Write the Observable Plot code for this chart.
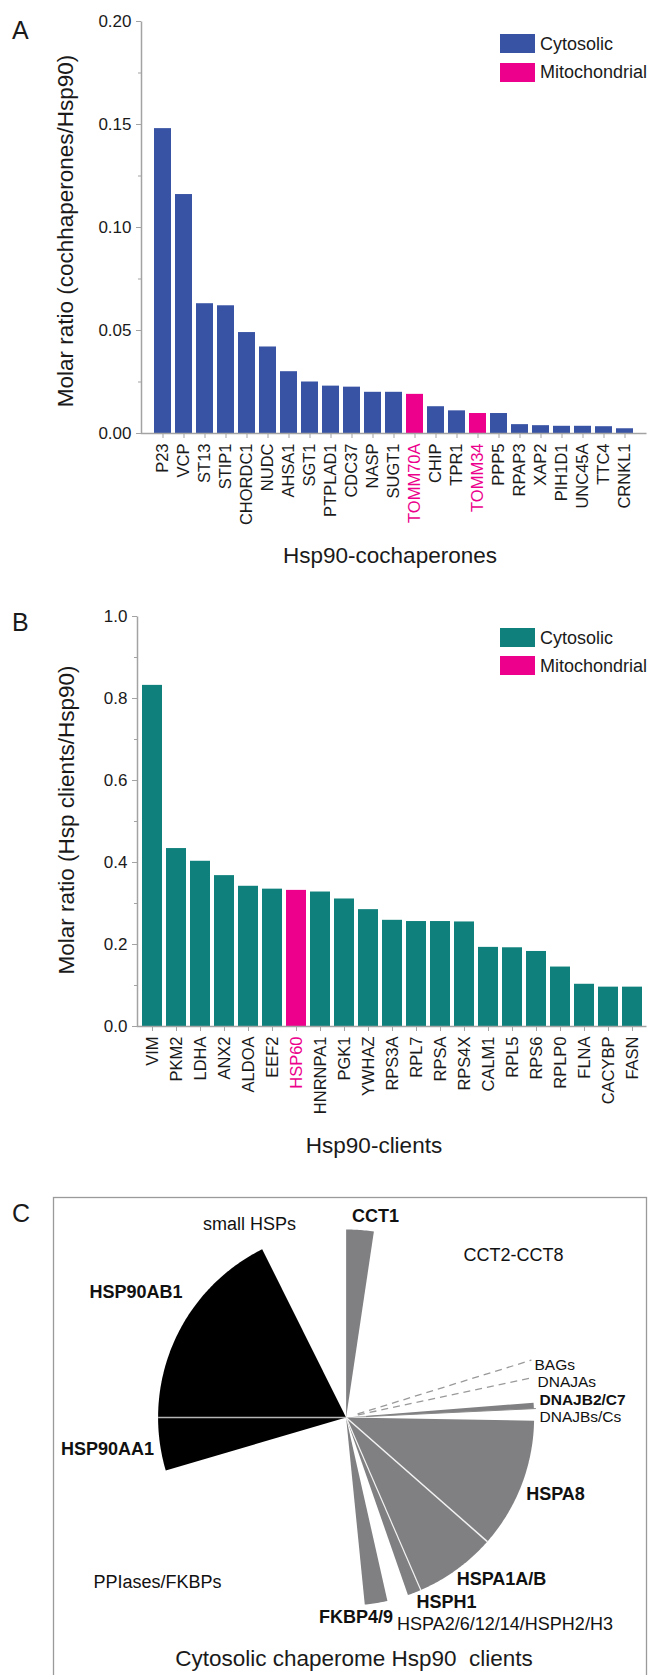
<!DOCTYPE html>
<html>
<head>
<meta charset="utf-8">
<script src="https://cdn.jsdelivr.net/npm/d3@7"></script>
<script src="https://cdn.jsdelivr.net/npm/@observablehq/plot@0.6"></script>
<style>
html, body { margin: 0; padding: 0; width: 649px; height: 1675px; overflow: hidden; background: #fff; }
#root { position: relative; width: 649px; height: 1675px; font-family: Arial, "Liberation Sans", Helvetica, sans-serif; color: #1a1a1a; }
.txt { position: absolute; white-space: pre; line-height: 1; }
.sw { position: absolute; width: 35px; height: 19px; }
</style>
</head>
<body>
<div id="root"></div>
<script>
// ---------- data ----------
const cochaperones = ["P23","VCP","ST13","STIP1","CHORDC1","NUDC","AHSA1","SGT1","PTPLAD1","CDC37","NASP","SUGT1","TOMM70A","CHIP","TPR1","TOMM34","PPP5","RPAP3","XAP2","PIH1D1","UNC45A","TTC4","CRNKL1"];
const cochaperoneRatio = [0.148,0.116,0.063,0.062,0.049,0.042,0.030,0.025,0.023,0.0225,0.020,0.020,0.019,0.013,0.011,0.0097,0.0097,0.0043,0.0038,0.0035,0.0035,0.0033,0.0023];
const cochaperoneLoc = ["Cytosolic","Cytosolic","Cytosolic","Cytosolic","Cytosolic","Cytosolic","Cytosolic","Cytosolic","Cytosolic","Cytosolic","Cytosolic","Cytosolic","Mitochondrial","Cytosolic","Cytosolic","Mitochondrial","Cytosolic","Cytosolic","Cytosolic","Cytosolic","Cytosolic","Cytosolic","Cytosolic"];

const clients = ["VIM","PKM2","LDHA","ANX2","ALDOA","EEF2","HSP60","HNRNPA1","PGK1","YWHAZ","RPS3A","RPL7","RPSA","RPS4X","CALM1","RPL5","RPS6","RPLP0","FLNA","CACYBP","FASN"];
const clientRatio = [0.832,0.434,0.403,0.368,0.342,0.335,0.332,0.328,0.311,0.285,0.259,0.256,0.256,0.255,0.193,0.192,0.183,0.145,0.103,0.096,0.096];
const clientLoc = ["Cytosolic","Cytosolic","Cytosolic","Cytosolic","Cytosolic","Cytosolic","Mitochondrial","Cytosolic","Cytosolic","Cytosolic","Cytosolic","Cytosolic","Cytosolic","Cytosolic","Cytosolic","Cytosolic","Cytosolic","Cytosolic","Cytosolic","Cytosolic","Cytosolic"];

const locations = ["Cytosolic","Mitochondrial"];
const yTicksA = [0, 0.05, 0.10, 0.15, 0.20];
const yMinorA = [0.025, 0.075, 0.125, 0.175];
const yTicksB = [0, 0.2, 0.4, 0.6, 0.8, 1.0];
const yMinorB = [0.1, 0.3, 0.5, 0.7, 0.9];

// panel C: cytosolic chaperome, share of the circle (degrees), clockwise from 12 o'clock
const pieNames = ["CCT1","CCT2-CCT8","BAGs","DNAJAs","DNAJB2/C7","DNAJBs/Cs","HSPA8","HSPA1A/B","HSPH1","HSPA2/6/12/14/HSPH2/H3","FKBP4/9","PPIases/FKBPs","HSP90AA1","HSP90AB1","small HSPs"];
const pieShare = [8.5, 64.3, 5.1, 7.6, 1.8, 3.7, 40.3, 25.3, 4.2, 6.5, 7.0, 79.3, 16.4, 63.5, 26.5];
const pieKind = ["chaperone","other","other","other","chaperone","other","chaperone","chaperone","chaperone","other","chaperone","other","hsp90","hsp90","other"];
const pieBold = ["CCT1","HSP90AB1","HSP90AA1","DNAJB2/C7","HSPA8","HSPA1A/B","HSPH1","FKBP4/9"];

// ---------- styles ----------
const FONT = "Arial, 'Liberation Sans', Helvetica, sans-serif";
const AXIS_GRAY = "#a3a3a3";
const PINK = "#ec008c";
const BLUE = "#3953a4";
const TEAL = "#0f807b";
const W = 649;
const root = document.getElementById("root");

function addText(str, {x, y, size, anchor = "middle", weight = "normal", color = "#1a1a1a", rotate = 0}) {
  const d = document.createElement("div");
  d.className = "txt";
  d.textContent = str;
  d.style.fontSize = size + "px";
  d.style.fontWeight = weight;
  d.style.color = color;
  d.style.left = x + "px";
  d.style.top = y + "px";
  const tx = anchor === "middle" ? "-50%" : anchor === "end" ? "-100%" : "0";
  d.style.transform = rotate ? `translate(-50%, -50%) rotate(${rotate}deg)` : `translate(${tx}, -50%)`;
  d.style.transformOrigin = "50% 50%";
  root.appendChild(d);
}
function addSwatch(x, y, color) {
  const d = document.createElement("div");
  d.className = "sw";
  d.style.left = x + "px"; d.style.top = y + "px"; d.style.background = color;
  root.appendChild(d);
}
function place(svg, top) {
  svg.style.position = "absolute";
  svg.style.left = "0px";
  svg.style.top = top + "px";
  root.appendChild(svg);
}

function barPanel({names, values, locs, barColor, yMax, major, minor, fmt, height, marginTop, marginBottom, marginLeft, marginRight, paddingInner, paddingOuter}) {
  const data = names.map((name, i) => ({name, value: values[i], loc: locs[i]}));
  const plotW = W - marginLeft - marginRight;
  const plotH = height - marginTop - marginBottom;
  const labelOpts = {x: "name", frameAnchor: "bottom", dy: 10, rotate: -90, textAnchor: "end", lineAnchor: "middle", text: "name", fontSize: 16.5};
  return Plot.plot({
    width: W, height, marginTop, marginBottom, marginLeft, marginRight,
    style: {fontFamily: FONT, background: "transparent", overflow: "visible", color: "#1a1a1a"},
    x: {type: "band", domain: names, paddingInner, paddingOuter, axis: null},
    y: {domain: [0, yMax], axis: null},
    color: {domain: locations, range: [barColor, PINK]},
    marks: [
      Plot.barY(data, {x: "name", y: "value", fill: "loc"}),
      Plot.frame({stroke: AXIS_GRAY, strokeWidth: 1.5, strokeDasharray: `0,${plotW + plotH},${plotW + plotH},0`}),
      Plot.axisY({ticks: major, tickSize: 5, tickPadding: 5, tickFormat: d3.format(fmt), fontSize: 17, stroke: AXIS_GRAY, fill: "#1a1a1a", label: null}),
      Plot.axisY({ticks: minor, tickSize: 3, tickFormat: () => "", stroke: AXIS_GRAY, label: null}),
      Plot.axisX({ticks: names, tickSize: 5, tickFormat: () => "", stroke: AXIS_GRAY, label: null}),
      Plot.text(data.filter(d => d.loc === "Cytosolic"), {...labelOpts, fill: "#1a1a1a"}),
      Plot.text(data.filter(d => d.loc !== "Cytosolic"), {...labelOpts, fill: PINK})
    ]
  });
}

// ---------- panel A ----------
place(barPanel({
  names: cochaperones, values: cochaperoneRatio, locs: cochaperoneLoc, barColor: BLUE,
  yMax: 0.2, major: yTicksA, minor: yMinorA, fmt: ".2f",
  height: 580, marginTop: 21, marginBottom: 147, marginLeft: 141, marginRight: 3,
  paddingInner: 0.2, paddingOuter: 0.1
}), 0);
addText("A", {x: 12, y: 30, size: 25, anchor: "start"});
addText("Molar ratio (cochhaperones/Hsp90)", {x: 66, y: 231, size: 22.5, rotate: -90});
addText("Hsp90-cochaperones", {x: 390, y: 556, size: 22.5});
addSwatch(500, 34, BLUE); addSwatch(500, 62.5, PINK);
addText(locations[0], {x: 540, y: 44, size: 18, anchor: "start"});
addText(locations[1], {x: 540, y: 72, size: 18, anchor: "start"});

// ---------- panel B ----------
place(barPanel({
  names: clients, values: clientRatio, locs: clientLoc, barColor: TEAL,
  yMax: 1.0, major: yTicksB, minor: yMinorB, fmt: ".1f",
  height: 580, marginTop: 26, marginBottom: 144, marginLeft: 137, marginRight: 3,
  paddingInner: 0.17, paddingOuter: 0.08
}), 590);
addText("B", {x: 12, y: 622, size: 25, anchor: "start"});
addText("Molar ratio (Hsp clients/Hsp90)", {x: 67, y: 820, size: 22.5, rotate: -90});
addText("Hsp90-clients", {x: 374, y: 1146, size: 22.5});
addSwatch(500, 628, TEAL); addSwatch(500, 656, PINK);
addText(locations[0], {x: 540, y: 638, size: 18, anchor: "start"});
addText(locations[1], {x: 540, y: 666, size: 18, anchor: "start"});

// ---------- panel C ----------
const R = 188;
const pieData = pieNames.map((name, i) => ({name, value: pieShare[i], kind: pieKind[i]}));
const arcs = d3.pie().sort(null).value(d => d.value)(pieData);
const wedgePts = [];
for (const a of arcs) {
  if (a.data.kind === "other") continue;
  const n = Math.max(2, Math.ceil((a.endAngle - a.startAngle) / 0.01) + 1);
  wedgePts.push({name: a.data.name, kind: a.data.kind, x: 0, y: 0});
  for (let k = 0; k < n; k++) {
    const t = a.startAngle + (a.endAngle - a.startAngle) * k / (n - 1);
    wedgePts.push({name: a.data.name, kind: a.data.kind, x: R * Math.sin(t), y: R * Math.cos(t)});
  }
  wedgePts.push({name: a.data.name, kind: a.data.kind, x: 0, y: 0});
}
// boundary rays (drawn at the start edge of a slice)
const edgeStyle = {
  "BAGs": {stroke: "#9a9a9a", width: 1.3, dash: "7,5", r0: 12, r1: 194},
  "DNAJAs": {stroke: "#9a9a9a", width: 1.3, dash: "7,5", r0: 12, r1: 192},
  "DNAJBs/Cs": {stroke: "#8a8a8a", width: 1, dash: null, r0: 20, r1: 190},
  "HSP90AB1": {stroke: "#b5b5b5", width: 1.5, dash: null, r0: 0, r1: R},
  "HSPA1A/B": {stroke: "#f2f2f2", width: 1.5, dash: null, r0: 0, r1: R},
  "HSPH1": {stroke: "#f2f2f2", width: 1.2, dash: null, r0: 0, r1: R}
};
const rays = arcs.filter(a => edgeStyle[a.data.name]).map(a => {
  const s = edgeStyle[a.data.name];
  return {name: a.data.name, ...s,
    x1: s.r0 * Math.sin(a.startAngle), y1: s.r0 * Math.cos(a.startAngle),
    x2: s.r1 * Math.sin(a.startAngle), y2: s.r1 * Math.cos(a.startAngle)};
});
// label placement (pie units, origin at the pie centre, y up) and size
const labelPos = {
  "small HSPs": [-96.6, 193.5, "middle", 18],
  "CCT1": [29.4, 201, "middle", 18],
  "CCT2-CCT8": [167.4, 162, "middle", 18],
  "HSP90AB1": [-210.1, 125, "middle", 18],
  "HSP90AA1": [-238.6, -32, "middle", 18],
  "BAGs": [188.4, 52.5, "start", 15.5],
  "DNAJAs": [191.4, 35, "start", 15.5],
  "DNAJB2/C7": [193.4, 17.5, "start", 15.5],
  "DNAJBs/Cs": [193.4, 0, "start", 15.5],
  "HSPA8": [209.4, -77, "middle", 18],
  "HSPA1A/B": [155.4, -162, "middle", 18],
  "HSPH1": [100.4, -185, "middle", 18],
  "FKBP4/9": [9.9, -200, "middle", 18],
  "HSPA2/6/12/14/HSPH2/H3": [158.9, -207, "middle", 18],
  "PPIases/FKBPs": [-188.6, -165, "middle", 18]
};
const labels = pieNames.map(name => ({name, x: labelPos[name][0], y: labelPos[name][1], anchor: labelPos[name][2], size: labelPos[name][3], bold: pieBold.includes(name)}));
const labelMarks = [];
for (const anchor of ["middle", "start"]) {
  for (const bold of [false, true]) {
    for (const size of [18, 15.5]) {
      const sub = labels.filter(d => d.anchor === anchor && d.bold === bold && d.size === size);
      if (sub.length) labelMarks.push(Plot.text(sub, {x: "x", y: "y", text: "name", fontSize: size, lineAnchor: "middle", fill: "#111", textAnchor: anchor, fontWeight: bold ? "bold" : "normal"}));
    }
  }
}

const pie = Plot.plot({
  width: W, height: 500, marginTop: 1, marginBottom: 0, marginLeft: 53, marginRight: 3,
  style: {fontFamily: FONT, background: "transparent", overflow: "visible"},
  x: {domain: [-292.6, 300.4], axis: null},
  y: {domain: [-279, 220], axis: null},
  marks: [
    Plot.frame({stroke: "#9a9a9a", strokeWidth: 1.3}),
    Plot.line(wedgePts.filter(d => d.kind === "hsp90"), {x: "x", y: "y", z: "name", fill: "#000", stroke: "none", curve: "linear"}),
    Plot.line(wedgePts.filter(d => d.kind === "chaperone"), {x: "x", y: "y", z: "name", fill: "#808083", stroke: "none", curve: "linear"}),
    ...rays.map(r => Plot.link([r], {x1: "x1", y1: "y1", x2: "x2", y2: "y2", stroke: r.stroke, strokeWidth: r.width, strokeDasharray: r.dash || undefined})),
    ...labelMarks
  ]
});
place(pie, 1196);
addText("C", {x: 12, y: 1213, size: 25, anchor: "start"});
addText("Cytosolic chaperome Hsp90  clients", {x: 354, y: 1659, size: 22.5});
</script>
</body>
</html>
